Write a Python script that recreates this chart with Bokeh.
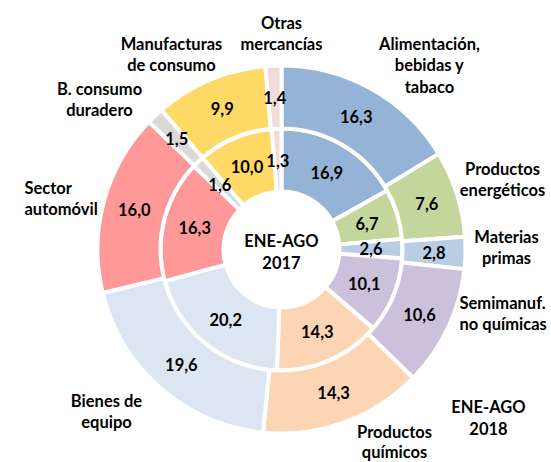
import math
from bokeh.plotting import figure
from bokeh.models import Range1d, ColumnDataSource
from bokeh.core.properties import value
from bokeh.embed import file_html
from bokeh.resources import INLINE

# ---- data ----
categories = [
    "Alimentación,\nbebidas y\ntabaco",
    "Productos\nenergéticos",
    "Materias\nprimas",
    "Semimanuf.\nno químicas",
    "Productos\nquímicos",
    "Bienes de\nequipo",
    "Sector\nautomóvil",
    "B. consumo\nduradero",
    "Manufacturas\nde consumo",
    "Otras\nmercancías",
]
share_2017 = [16.9, 6.7, 2.6, 10.1, 14.3, 20.2, 16.3, 1.6, 10.0, 1.3]
share_2018 = [16.3, 7.6, 2.8, 10.6, 14.3, 19.6, 16.0, 1.5, 9.9, 1.4]
period_labels = ["ENE-AGO\n2017", "ENE-AGO\n2018"]

# ---- styles / layout ----
colors = ["#95B3D7", "#C3D69B", "#B9CDE5", "#CCC1DA", "#FCD5B5",
          "#DCE6F2", "#FF9999", "#D9D9D9", "#FFD966", "#F2DCDB"]
W, H = 551, 462
CX, CY = 281, H - 249
R_HOLE, R_MID, R_OUT = 58, 121, 184
FONT = "Lato"
FS = "16.5px"
LINE = 21.5

# category label anchors (x, top-line y in pixels from top, align, line gap)
cat_pos = [
    (429, 43, "center", LINE),
    (502, 168, "center", LINE),
    (506, 236, "center", LINE),
    (459, 302, "left", LINE),
    (394, 431, "center", 20),
    (106, 400, "center", LINE),
    (24, 187, "left", LINE),
    (99, 88, "center", LINE),
    (171, 43, "center", LINE),
    (281, 22, "center", LINE),
]
period_pos = [(281, 240, "center", LINE), (488, 406, "center", LINE)]

p = figure(width=W, height=H, output_backend="svg", toolbar_location=None,
           x_range=Range1d(0, W), y_range=Range1d(0, H),
           min_border=0, min_border_left=0, min_border_right=0,
           min_border_top=0, min_border_bottom=0)
p.axis.visible = False
p.grid.visible = False
p.outline_line_color = None
p.background_fill_color = "white"
p.border_fill_color = "white"


def ring(shares, r_in, r_out):
    total = sum(shares)
    starts, ends, mids = [], [], []
    cum = 0.0
    for v in shares:
        a0 = math.pi / 2 - 2 * math.pi * cum / total
        cum += v
        a1 = math.pi / 2 - 2 * math.pi * cum / total
        starts.append(a0)
        ends.append(a1)
        mids.append((a0 + a1) / 2)
    src = ColumnDataSource(dict(start=starts, end=ends, color=colors))
    p.annular_wedge(x=CX, y=CY, inner_radius=r_in, outer_radius=r_out,
                    start_angle="start", end_angle="end", direction="clock",
                    fill_color="color", line_color="white", line_width=4,
                    source=src)
    rm = (r_in + r_out) / 2
    lx = [CX + rm * math.cos(a) for a in mids]
    ly = [CY + rm * math.sin(a) for a in mids]
    txt = [f"{v:.1f}".replace(".", ",") for v in shares]
    p.text(x=lx, y=ly, text=txt, text_align="center", text_baseline="middle",
           text_font=value(FONT), text_font_style="bold", text_font_size=FS,
           text_color="black")


ring(share_2017, R_HOLE, R_MID)
ring(share_2018, R_MID, R_OUT)


def multiline(label, pos):
    x, ytop, align, gap = pos
    xs, ys, ts = [], [], []
    for i, line in enumerate(label.split("\n")):
        xs.append(x)
        ys.append(H - (ytop + i * gap))
        ts.append(line)
    p.text(x=xs, y=ys, text=ts, text_align=align, text_baseline="middle",
           text_font=value(FONT), text_font_style="bold", text_font_size=FS,
           text_color="black")


for lab, pos in zip(categories, cat_pos):
    multiline(lab, pos)
for lab, pos in zip(period_labels, period_pos):
    multiline(lab, pos)

open("out.html", "w").write(file_html(p, INLINE))
